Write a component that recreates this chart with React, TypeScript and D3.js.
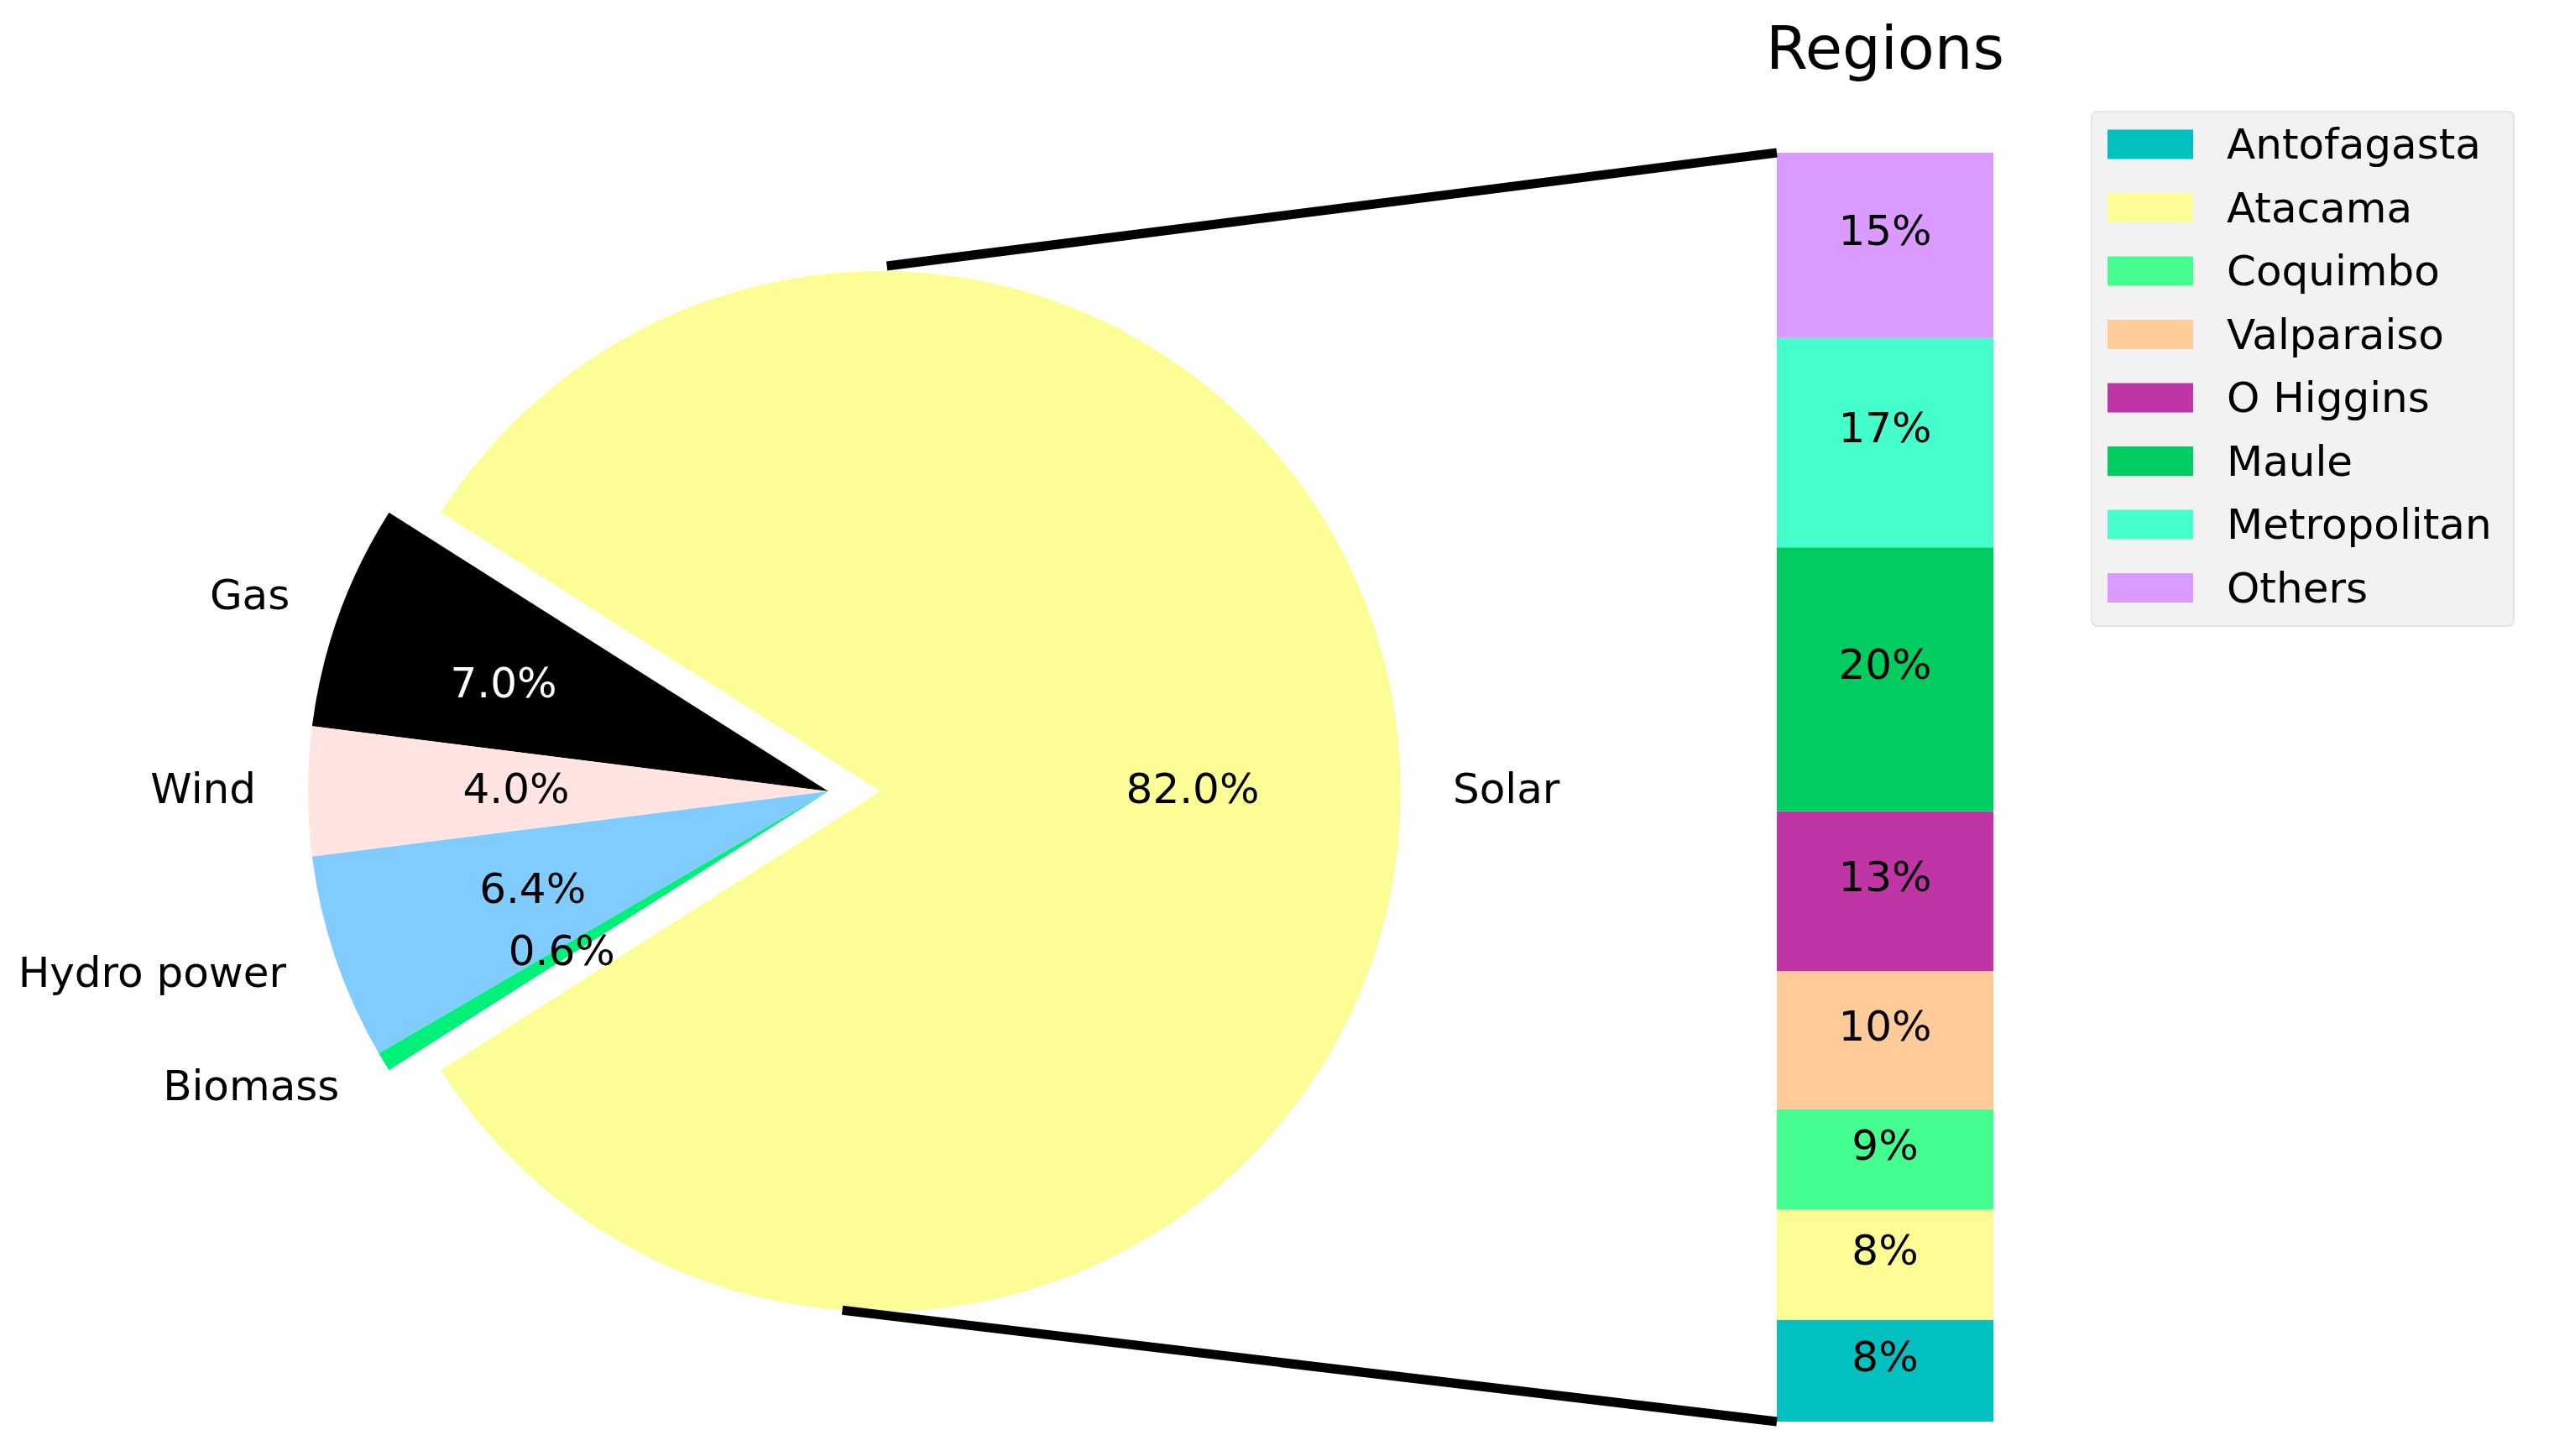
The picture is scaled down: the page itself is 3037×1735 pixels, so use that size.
import React from 'react';
import * as d3 from 'd3';

// ---------- data ----------
const sources = ['Solar', 'Gas', 'Wind', 'Hydro power', 'Biomass'];
const sourceShares = [82.0, 7.0, 4.0, 6.4, 0.6];
const sourceExplode = [0.1, 0, 0, 0, 0];
const sourceColors = ['#fdfd96', '#000000', '#ffe4e1', '#80ccff', '#00f07a'];
const pctTextColors = ['#000000', '#ffffff', '#000000', '#000000', '#000000'];

const regions = ['Antofagasta', 'Atacama', 'Coquimbo', 'Valparaiso', 'O Higgins', 'Maule', 'Metropolitan', 'Others'];
const regionShares = [0.080, 0.087, 0.079, 0.109, 0.126, 0.208, 0.165, 0.146];
const regionLabels = ['8%', '8%', '9%', '10%', '13%', '20%', '17%', '15%'];
const regionColors = ['#00c0c0', '#fdfd96', '#44ff8f', '#ffcc99', '#c035a5', '#00cc60', '#44ffcc', '#da9aff'];

const barTitle = 'Regions';

// ---------- layout ----------
const W = 3037;
const H = 1735;
const FONT = 'DejaVu Sans, Verdana, sans-serif';
const FS = 50;
const TITLE_FS = 72;

const CX = 987;
const CY = 943;
const R = 620;
const LABEL_DIST = 1.1;
const PCT_DIST = 0.6;
const PCT_NUDGE_X: Record<number, number> = { 1: -37 };

const BAR_X = 2117;
const BAR_W = 258;
const BAR_TOP = 182;
const BAR_BOTTOM = 1694;

const CONN_TOP_DEG = 89.3;
const CONN_TOP_R = 626;
const CONN_BOTTOM_DEG = 265.8;
const CONN_BOTTOM_R = 620;
const CONN_W = 11;

const LEG_X = 2492;
const LEG_Y = 133;
const LEG_W = 503;
const LEG_H = 613;
const LEG_ROW0 = 172;
const LEG_PITCH = 75.5;
const LEG_HANDLE_X = 2511;
const LEG_HANDLE_W = 102;
const LEG_HANDLE_H = 35;
const LEG_TEXT_X = 2653;

export default function App() {
  const total = d3.sum(sourceShares);
  const startDeg = 90 + (180 * sourceShares[0]) / total;
  const pie = d3
    .pie<number>()
    .sort(null)
    .value((d) => d)
    .startAngle((startDeg * Math.PI) / 180)
    .endAngle(((startDeg - 360) * Math.PI) / 180);
  const arcs = pie(sourceShares);
  const arcGen = d3.arc<d3.PieArcDatum<number>>().innerRadius(0).outerRadius(R);

  const wedgeInfo = arcs.map((a, i) => {
    const mid = (a.startAngle + a.endAngle) / 2;
    const off = sourceExplode[i] * R;
    const ox = CX + off * Math.sin(mid);
    const oy = CY - off * Math.cos(mid);
    return { a, mid, ox, oy };
  });

  const solar = wedgeInfo[0];
  const topPt = {
    x: solar.ox + CONN_TOP_R * Math.cos((CONN_TOP_DEG * Math.PI) / 180),
    y: solar.oy - CONN_TOP_R * Math.sin((CONN_TOP_DEG * Math.PI) / 180),
  };
  const botPt = {
    x: solar.ox + CONN_BOTTOM_R * Math.cos((CONN_BOTTOM_DEG * Math.PI) / 180),
    y: solar.oy - CONN_BOTTOM_R * Math.sin((CONN_BOTTOM_DEG * Math.PI) / 180),
  };

  const y = d3.scaleLinear().domain([0, d3.sum(regionShares)]).range([BAR_BOTTOM, BAR_TOP]);
  const cum = Array.from(d3.cumsum(regionShares));
  const segs = regionShares.map((v, i) => {
    const base = i === 0 ? 0 : cum[i - 1];
    return { y0: y(base), y1: y(base + v) };
  });

  const baseOff = 0.276 * FS;

  return (
    <svg
      width={W}
      height={H}
      viewBox={`0 0 ${W} ${H}`}
      style={{ position: 'absolute', left: 0, top: 0, display: 'block', background: '#ffffff' }}
      fontFamily={FONT}
    >
      <rect x={0} y={0} width={W} height={H} fill="#ffffff" />

      {/* pie wedges */}
      {wedgeInfo.map((w, i) => (
        <path
          key={`w${i}`}
          d={arcGen(w.a) || ''}
          transform={`translate(${w.ox},${w.oy})`}
          fill={sourceColors[i]}
        />
      ))}

      {/* outer labels */}
      {wedgeInfo.map((w, i) => {
        const lx = w.ox + LABEL_DIST * R * Math.sin(w.mid);
        const ly = w.oy - LABEL_DIST * R * Math.cos(w.mid);
        return (
          <text
            key={`l${i}`}
            x={lx}
            y={ly + baseOff}
            fontSize={FS}
            textAnchor={Math.sin(w.mid) > 0 ? 'start' : 'end'}
            fill="#000000"
          >
            {sources[i]}
          </text>
        );
      })}

      {/* percentage labels */}
      {wedgeInfo.map((w, i) => {
        const px = w.ox + PCT_DIST * R * Math.sin(w.mid) + (PCT_NUDGE_X[i] || 0);
        const py = w.oy - PCT_DIST * R * Math.cos(w.mid);
        const pct = (100 * sourceShares[i]) / total;
        return (
          <text
            key={`p${i}`}
            x={px}
            y={py + baseOff}
            fontSize={FS}
            textAnchor="middle"
            fill={pctTextColors[i]}
          >
            {`${pct.toFixed(1)}%`}
          </text>
        );
      })}

      {/* stacked bar */}
      {segs.map((s, i) => (
        <rect
          key={`b${i}`}
          x={BAR_X}
          y={s.y1}
          width={BAR_W}
          height={s.y0 - s.y1}
          fill={regionColors[i]}
        />
      ))}
      {segs.map((s, i) => (
        <text
          key={`bl${i}`}
          x={BAR_X + BAR_W / 2}
          y={(s.y0 + s.y1) / 2}
          fontSize={FS}
          textAnchor="middle"
          fill="#000000"
        >
          {regionLabels[i]}
        </text>
      ))}

      {/* title */}
      <text x={BAR_X + BAR_W / 2} y={82} fontSize={TITLE_FS} textAnchor="middle" fill="#000000">
        {barTitle}
      </text>

      {/* connection lines */}
      <line
        x1={topPt.x}
        y1={topPt.y}
        x2={BAR_X}
        y2={y(d3.sum(regionShares))}
        stroke="#000000"
        strokeWidth={CONN_W}
        strokeLinecap="butt"
      />
      <line
        x1={botPt.x}
        y1={botPt.y}
        x2={BAR_X}
        y2={y(0)}
        stroke="#000000"
        strokeWidth={CONN_W}
        strokeLinecap="butt"
      />

      {/* legend */}
      <rect
        x={LEG_X}
        y={LEG_Y}
        width={LEG_W}
        height={LEG_H}
        rx={7}
        ry={7}
        fill="#f2f2f2"
        stroke="#e4e4e4"
        strokeWidth={2}
      />
      {regions.map((r, i) => {
        const cy = LEG_ROW0 + i * LEG_PITCH;
        return (
          <g key={`lg${i}`}>
            <rect
              x={LEG_HANDLE_X}
              y={cy - LEG_HANDLE_H / 2}
              width={LEG_HANDLE_W}
              height={LEG_HANDLE_H}
              fill={regionColors[i]}
            />
            <text x={LEG_TEXT_X} y={cy + 17} fontSize={FS} fill="#000000">
              {r}
            </text>
          </g>
        );
      })}
    </svg>
  );
}
